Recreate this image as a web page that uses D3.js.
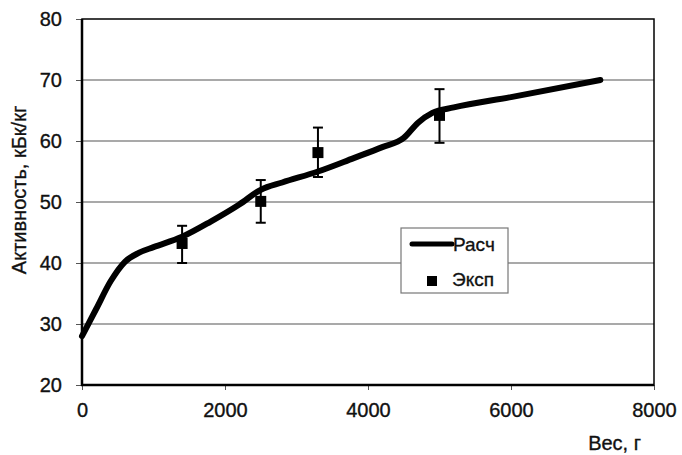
<!DOCTYPE html>
<html><head><meta charset="utf-8">
<script src="https://cdnjs.cloudflare.com/ajax/libs/d3/7.8.5/d3.min.js"></script>
<style>body{margin:0;background:#fff}svg{display:block}text{stroke:#111;stroke-width:0.35px}</style>
</head><body>
<svg id="c" width="682" height="455"></svg>
<script>
const calcX = [0,200,400,600,800,1000,1400,1800,2200,2500,2800,3300,3800,4200,4500,4700,4900,5200,6000,7250];
const calcY = [28,32.5,37,40.2,41.7,42.6,44.3,46.8,49.6,52,53.2,55,57.2,59,60.5,63,64.6,65.5,67.2,70];
const expX = [1400,2500,3300,5000];
const expY = [43.2,50.1,58.1,64.2];
const expLo = [40,46.6,54.1,59.7];
const expHi = [46.1,53.6,62.2,68.5];
const xTicks = [0,2000,4000,6000,8000];
const yTicks = [20,30,40,50,60,70,80];
const seriesNames = ["Расч","Эксп"];

const svg = d3.select("#c");
const font = "Liberation Sans, Arial, sans-serif";
const x = d3.scaleLinear().domain([0,8000]).range([82,654]);
const y = d3.scaleLinear().domain([20,80]).range([385,19]);

// gridlines
svg.append("g").selectAll("line").data(yTicks.filter(d=>d>20&&d<80)).join("line")
  .attr("x1",82).attr("x2",654).attr("y1",d=>y(d)).attr("y2",d=>y(d))
  .attr("stroke","#8c8c8c").attr("stroke-width",1.3);

// axes
const yAxis = d3.axisLeft(y).tickValues(yTicks).tickSize(6).tickPadding(14);
const gy = svg.append("g").attr("transform","translate(82,0)").call(yAxis);
gy.select(".domain").remove();
gy.selectAll("line").attr("stroke","#555").attr("stroke-width",1);
gy.selectAll("text").attr("font-family",font).attr("font-size",20).attr("fill","#111");

const xAxis = d3.axisBottom(x).tickValues(xTicks).tickFormat(d3.format("d")).tickSize(5).tickPadding(13);
const gx = svg.append("g").attr("transform","translate(0,385)").call(xAxis);
gx.select(".domain").remove();
gx.selectAll("line").attr("stroke","#555").attr("stroke-width",1);
gx.selectAll("text").attr("font-family",font).attr("font-size",20).attr("fill","#111");

// plot border
svg.append("rect").attr("x",82).attr("y",19).attr("width",572).attr("height",366)
  .attr("fill","none").attr("stroke","#000").attr("stroke-width",1.5);
svg.append("line").attr("x1",82).attr("x2",82).attr("y1",19).attr("y2",386).attr("stroke","#000").attr("stroke-width",2.5);
svg.append("line").attr("x1",81).attr("x2",654).attr("y1",385).attr("y2",385).attr("stroke","#000").attr("stroke-width",2.5);

// curve
const calc = calcX.map((v,i)=>[v,calcY[i]]);
svg.append("path").datum(calc)
  .attr("d", d3.line().x(d=>x(d[0])).y(d=>y(d[1])).curve(d3.curveMonotoneX))
  .attr("fill","none").attr("stroke","#000").attr("stroke-width",6).attr("stroke-linecap","round");

// error bars
const exp = expX.map((v,i)=>({x:v,y:expY[i],lo:expLo[i],hi:expHi[i]}));
const eb = svg.append("g");
eb.selectAll("line.v").data(exp).join("line").attr("class","v")
  .attr("x1",d=>x(d.x)).attr("x2",d=>x(d.x)).attr("y1",d=>y(d.lo)).attr("y2",d=>y(d.hi))
  .attr("stroke","#000").attr("stroke-width",2);
eb.selectAll("line.t").data(exp).join("line").attr("class","t")
  .attr("x1",d=>x(d.x)-5).attr("x2",d=>x(d.x)+5).attr("y1",d=>y(d.hi)).attr("y2",d=>y(d.hi))
  .attr("stroke","#000").attr("stroke-width",2);
eb.selectAll("line.b").data(exp).join("line").attr("class","b")
  .attr("x1",d=>x(d.x)-5).attr("x2",d=>x(d.x)+5).attr("y1",d=>y(d.lo)).attr("y2",d=>y(d.lo))
  .attr("stroke","#000").attr("stroke-width",2);
eb.selectAll("rect").data(exp).join("rect")
  .attr("x",d=>x(d.x)-5.5).attr("y",d=>y(d.y)-5.5).attr("width",11).attr("height",11).attr("fill","#000");

// legend
const lg = svg.append("g");
lg.append("rect").attr("x",401).attr("y",228).attr("width",107).attr("height",65)
  .attr("fill","#fff").attr("stroke","#777").attr("stroke-width",1.2);
lg.append("line").attr("x1",412).attr("x2",452).attr("y1",244).attr("y2",244)
  .attr("stroke","#000").attr("stroke-width",5).attr("stroke-linecap","round");
lg.append("text").attr("x",453).attr("y",251).text(seriesNames[0])
  .attr("font-family",font).attr("font-size",19).attr("fill","#111");
lg.append("rect").attr("x",427).attr("y",276).attr("width",10).attr("height",10).attr("fill","#000");
lg.append("text").attr("x",452).attr("y",286).text(seriesNames[1])
  .attr("font-family",font).attr("font-size",19).attr("fill","#111");

// axis titles
svg.append("text").attr("transform","translate(26,190) rotate(-90)").attr("text-anchor","middle")
  .attr("font-family",font).attr("font-size",20).attr("fill","#111").text("Активность, кБк/кг");
svg.append("text").attr("x",641).attr("y",450).attr("text-anchor","end")
  .attr("font-family",font).attr("font-size",20).attr("fill","#111").text("Вес, г");
</script>
</body></html>
